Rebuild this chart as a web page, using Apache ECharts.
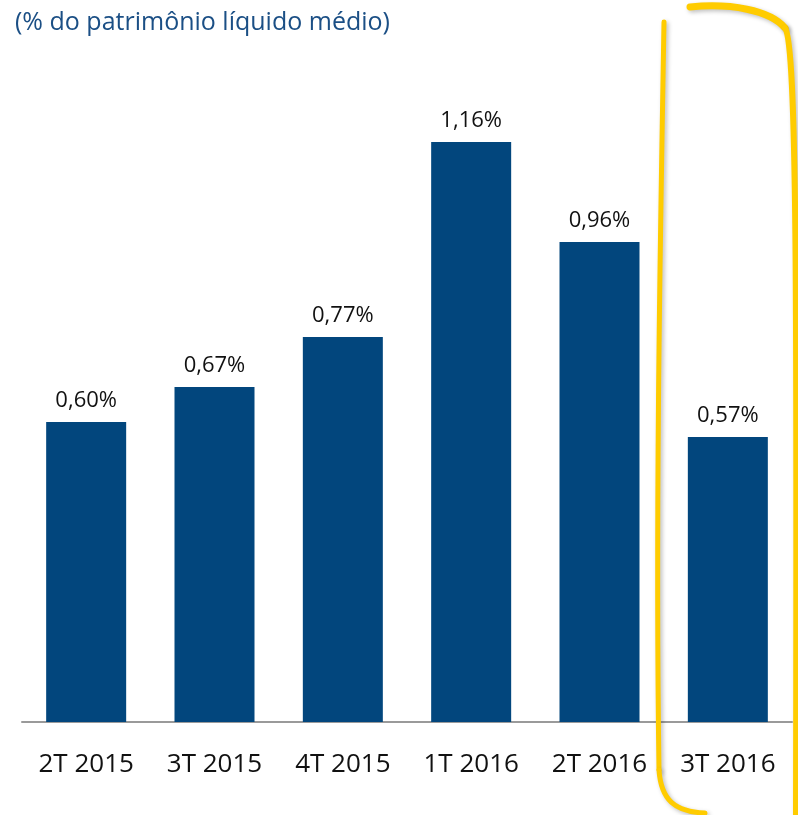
<!DOCTYPE html>
<html>
<head>
<meta charset="utf-8">
<script src="https://cdn.jsdelivr.net/npm/echarts@6/dist/echarts.min.js"></script>
<style>
  html, body { margin: 0; padding: 0; background: #fff; }
  #chart { width: 798px; height: 815px; }
</style>
</head>
<body>
<div id="chart"></div>
<script>
// dados
const categorias = ['2T 2015', '3T 2015', '4T 2015', '1T 2016', '2T 2016', '3T 2016']
const valores = [0.60, 0.67, 0.77, 1.16, 0.96, 0.57]
const titulo = '(% do patrimônio líquido médio)'

const azul = '#02467D'
const amarelo = '#FFCC00'

let myChart = echarts.init(document.getElementById('chart'))

// traço amarelo (marcação à mão) como curva bezier
function traco (x1, y1, cpx1, cpy1, cpx2, cpy2, x2, y2, largura) {
  return {
    type: 'bezierCurve',
    shape: { x1: x1, y1: y1, cpx1: cpx1, cpy1: cpy1, cpx2: cpx2, cpy2: cpy2, x2: x2, y2: y2 },
    style: {
      fill: null,
      stroke: amarelo,
      lineWidth: largura,
      lineCap: 'round',
      shadowBlur: 4,
      shadowColor: 'rgba(0,0,0,0.25)',
      shadowOffsetX: 2,
      shadowOffsetY: 2
    },
    z: 10
  }
}

let options = {
  animation: false,
  textStyle: { fontFamily: 'Open Sans' },
  title: {
    text: titulo,
    left: 10,
    top: 5,
    textStyle: {
      color: '#1B4F85',
      fontSize: 25,
      fontWeight: 'normal',
      fontFamily: 'Open Sans'
    }
  },
  grid: { left: 22, right: 6, top: 122, bottom: 93 },
  xAxis: {
    type: 'category',
    data: categorias,
    axisLine: { lineStyle: { color: '#9a9a9a', width: 2 } },
    axisTick: { show: false },
    axisLabel: {
      interval: 0,
      hideOverlap: false,
      color: '#111',
      fontSize: 26,
      margin: 30,
      fontFamily: 'Open Sans'
    }
  },
  yAxis: {
    type: 'value',
    min: 0,
    max: 1.2,
    show: false,
    splitLine: { show: false }
  },
  series: [
    {
      type: 'bar',
      data: valores,
      barWidth: 80,
      itemStyle: { color: azul },
      label: {
        show: true,
        position: 'top',
        distance: 10,
        color: '#111',
        fontSize: 22,
        fontFamily: 'Open Sans',
        formatter: function (p) {
          return p.value.toFixed(2).replace('.', ',') + '%'
        }
      }
    }
  ],
  graphic: [
    traco(664, 22, 661, 200, 655, 500, 659, 770, 5),
    traco(659, 770, 661, 800, 675, 812, 705, 813, 5),
    traco(690, 7, 730, 3, 770, 10, 785, 28, 7),
    traco(785, 28, 797, 44, 797, 300, 796, 815, 6)
  ]
}

myChart.setOption(options)
</script>
</body>
</html>
